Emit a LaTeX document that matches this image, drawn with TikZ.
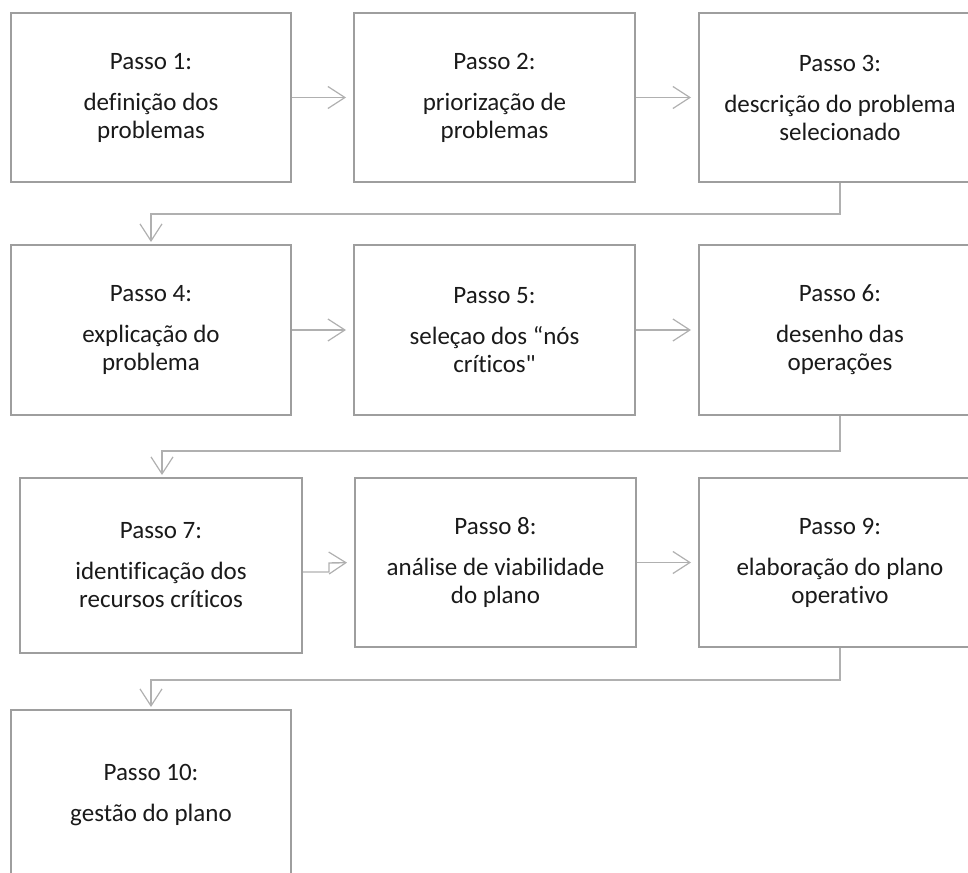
\documentclass[tikz,border=0pt]{standalone}
\usepackage{fontspec}
\setmainfont{Carlito}[Ligatures={TeXOff,CommonOff}]
\usetikzlibrary{arrows.meta,calc}
\definecolor{boxgray}{HTML}{9E9E9E}
\definecolor{conngray}{HTML}{B0B0B0}
\definecolor{txt}{HTML}{1A1A1A}
\tikzset{
  stepbox/.style={draw=boxgray, line width=2pt, fill=white, inner sep=0pt,
    align=center, text=txt, font=\fontsize{25}{28}\selectfont},
  conn/.style={draw=conngray, line width=1.4pt,
    -{Straight Barb[length=17pt,width=22pt,line width=1.2pt]}},
}
\begin{document}
\begin{tikzpicture}[x=1pt,y=-1pt]
\useasboundingbox (0,0) rectangle (968,872);
\clip (0,0) rectangle (968,872);
% row 1
\node[stepbox, minimum width=280pt, minimum height=169pt] (b1) at (151,97.5)
  {Passo 1:\\[13pt]definição dos\\problemas};
\node[stepbox, minimum width=281pt, minimum height=169pt] (b2) at (494.5,97.5)
  {Passo 2:\\[13pt]priorização de\\problemas};
\node[stepbox, minimum width=282pt, minimum height=169pt] (b3) at (840,97.5)
  {Passo 3:\\[13pt]descrição do problema\\selecionado};
% row 2
\node[stepbox, minimum width=280pt, minimum height=170pt] (b4) at (151,330)
  {Passo 4:\\[13pt]explicação do\\problema};
\node[stepbox, minimum width=281pt, minimum height=170pt] (b5) at (494.5,330)
  {Passo 5:\\[13pt]seleçao dos “nós\\críticos"};
\node[stepbox, minimum width=282pt, minimum height=170pt] (b6) at (840,330)
  {Passo 6:\\[13pt]desenho das\\operações};
% row 3
\node[stepbox, minimum width=282pt, minimum height=175pt] (b7) at (161,565.5)
  {Passo 7:\\[13pt]identificação dos\\recursos críticos};
\node[stepbox, minimum width=281pt, minimum height=169pt] (b8) at (495.5,562.5)
  {Passo 8:\\[13pt]análise de viabilidade\\do plano};
\node[stepbox, minimum width=282pt, minimum height=169pt] (b9) at (840,562.5)
  {Passo 9:\\[13pt]elaboração do plano\\operativo};
% row 4
\node[stepbox, minimum width=280pt, minimum height=170pt] (b10) at (151,795)
  {Passo 10:\\[13pt]gestão do plano};
% horizontal connectors
\draw[conn, shorten >=7pt] (b1.east) -- (b2.west);
\draw[conn, shorten >=7pt] (b2.east) -- (b3.west);
\draw[conn, shorten >=7pt] (b4.east) -- (b5.west);
\draw[conn, shorten >=7pt] (b5.east) -- (b6.west);
\draw[conn, shorten >=7pt] ($(b7.east)+(0,6.5)$) -- ++(26,0) -- ++(0,-9) -- (b8.west);
\draw[conn, shorten >=7pt] (b8.east) -- (b9.west);
% row-change connectors
\draw[conn, shorten >=2pt] (b3.south) -- ++(0,31) -| (b4.north);
\draw[conn, shorten >=2pt] (b6.south) -- ++(0,35) -| ([xshift=1pt]b7.north);
\draw[conn, shorten >=2pt] (b9.south) -- ++(0,32) -| (b10.north);
\end{tikzpicture}
\end{document}
